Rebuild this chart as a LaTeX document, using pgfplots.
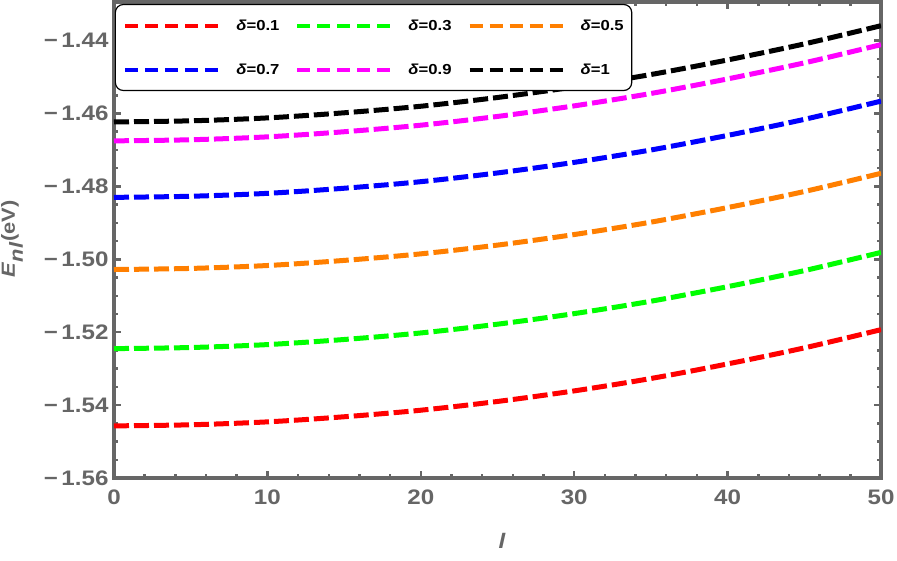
\documentclass[border=0pt]{standalone}
\usepackage{fontspec}
\setmainfont{Liberation Sans}[FakeStretch=1.15]
\usepackage{pgfplots}
\pgfplotsset{compat=1.18}
\definecolor{fgray}{RGB}{102,102,102}
\definecolor{mgreen}{RGB}{0,255,0}
\definecolor{morange}{RGB}{255,127,0}
\definecolor{mmag}{RGB}{255,0,255}
\begin{document}
\begin{tikzpicture}[x=1pt,y=1pt]
\path[use as bounding box] (0,0) rectangle (897,560);
\begin{axis}[
  at={(114pt,82pt)}, anchor=south west,
  scale only axis, width=767pt, height=476pt,
  xmin=0, xmax=50, ymin=-1.56, ymax=-1.4294,
  axis line style={fgray, line width=4.5pt},
  tick align=inside,
  major tick length=7pt, minor tick length=4pt,
  every tick/.style={fgray, line width=2.5pt},
  xtick={0,10,20,30,40,50},
  xticklabels={0,10,20,30,40,50},
  minor x tick num=4,
  ytick={-1.56,-1.54,-1.52,-1.50,-1.48,-1.46,-1.44},
  yticklabels={−\,1.56,−\,1.54,−\,1.52,−\,1.50,−\,1.48,−\,1.46,−\,1.44},
  minor y tick num=3,
  tick label style={font=\fontsize{21}{21}\selectfont\bfseries, text=fgray},
  yticklabel style={xshift=-2pt},
  xticklabel style={yshift=-8pt},
  xlabel={\textbf{\textit{l}}},
  xlabel style={font=\fontsize{21}{21}\selectfont, text=fgray, at={(axis description cs:0.506,-0.132)}, anchor=center},
  ylabel={\textbf{\textit{E}$_{\textbf{\textit{nl}}}$(eV)}},
  ylabel style={font=\fontsize{19}{19}\selectfont, text=fgray, at={(axis description cs:-0.133,0.502)}, anchor=center},
  legend columns=3,
  legend cell align=left,
  legend style={at={(axis description cs:0.001,0.996)}, anchor=north west,
    draw=black, line width=1.2pt, rounded corners=8pt,
    font=\fontsize{14.5}{14.5}\selectfont\bfseries,
    nodes={inner sep=0pt},
    inner xsep=8pt, inner ysep=15pt, row sep=32pt,
    /tikz/every odd column/.append style={column sep=15pt},
    /tikz/every even column/.append style={column sep=16pt}},
  legend image code/.code={\draw[#1, line width=4pt, dash pattern=on 13pt off 7pt] (0pt,0pt) -- (94pt,0pt);},
  every axis plot/.append style={line width=5pt, dash pattern=on 15pt off 5pt, smooth},
]
\addplot[red] coordinates {(0,-1.5457) (5,-1.5454) (10,-1.5446) (15,-1.5432) (20,-1.5414) (25,-1.5390) (30,-1.5361) (35,-1.5327) (40,-1.5287) (45,-1.5243) (50,-1.5193)};
\addlegendentry{\textit{δ}=0.1}
\addplot[mgreen] coordinates {(0,-1.5245) (5,-1.5242) (10,-1.5234) (15,-1.5220) (20,-1.5202) (25,-1.5178) (30,-1.5149) (35,-1.5115) (40,-1.5075) (45,-1.5031) (50,-1.4981)};
\addlegendentry{\textit{δ}=0.3}
\addplot[morange] coordinates {(0,-1.5028) (5,-1.5025) (10,-1.5017) (15,-1.5003) (20,-1.4985) (25,-1.4961) (30,-1.4932) (35,-1.4898) (40,-1.4858) (45,-1.4814) (50,-1.4764)};
\addlegendentry{\textit{δ}=0.5}
\addplot[blue] coordinates {(0,-1.4830) (5,-1.4827) (10,-1.4819) (15,-1.4805) (20,-1.4787) (25,-1.4763) (30,-1.4734) (35,-1.4700) (40,-1.4660) (45,-1.4616) (50,-1.4566)};
\addlegendentry{\textit{δ}=0.7}
\addplot[mmag] coordinates {(0,-1.4675) (5,-1.4672) (10,-1.4664) (15,-1.4650) (20,-1.4632) (25,-1.4608) (30,-1.4579) (35,-1.4545) (40,-1.4505) (45,-1.4461) (50,-1.4411)};
\addlegendentry{\textit{δ}=0.9}
\addplot[black] coordinates {(0,-1.4623) (5,-1.4620) (10,-1.4612) (15,-1.4598) (20,-1.4580) (25,-1.4556) (30,-1.4527) (35,-1.4493) (40,-1.4453) (45,-1.4409) (50,-1.4359)};
\addlegendentry{\textit{δ}=1}
\end{axis}
\end{tikzpicture}
\end{document}
